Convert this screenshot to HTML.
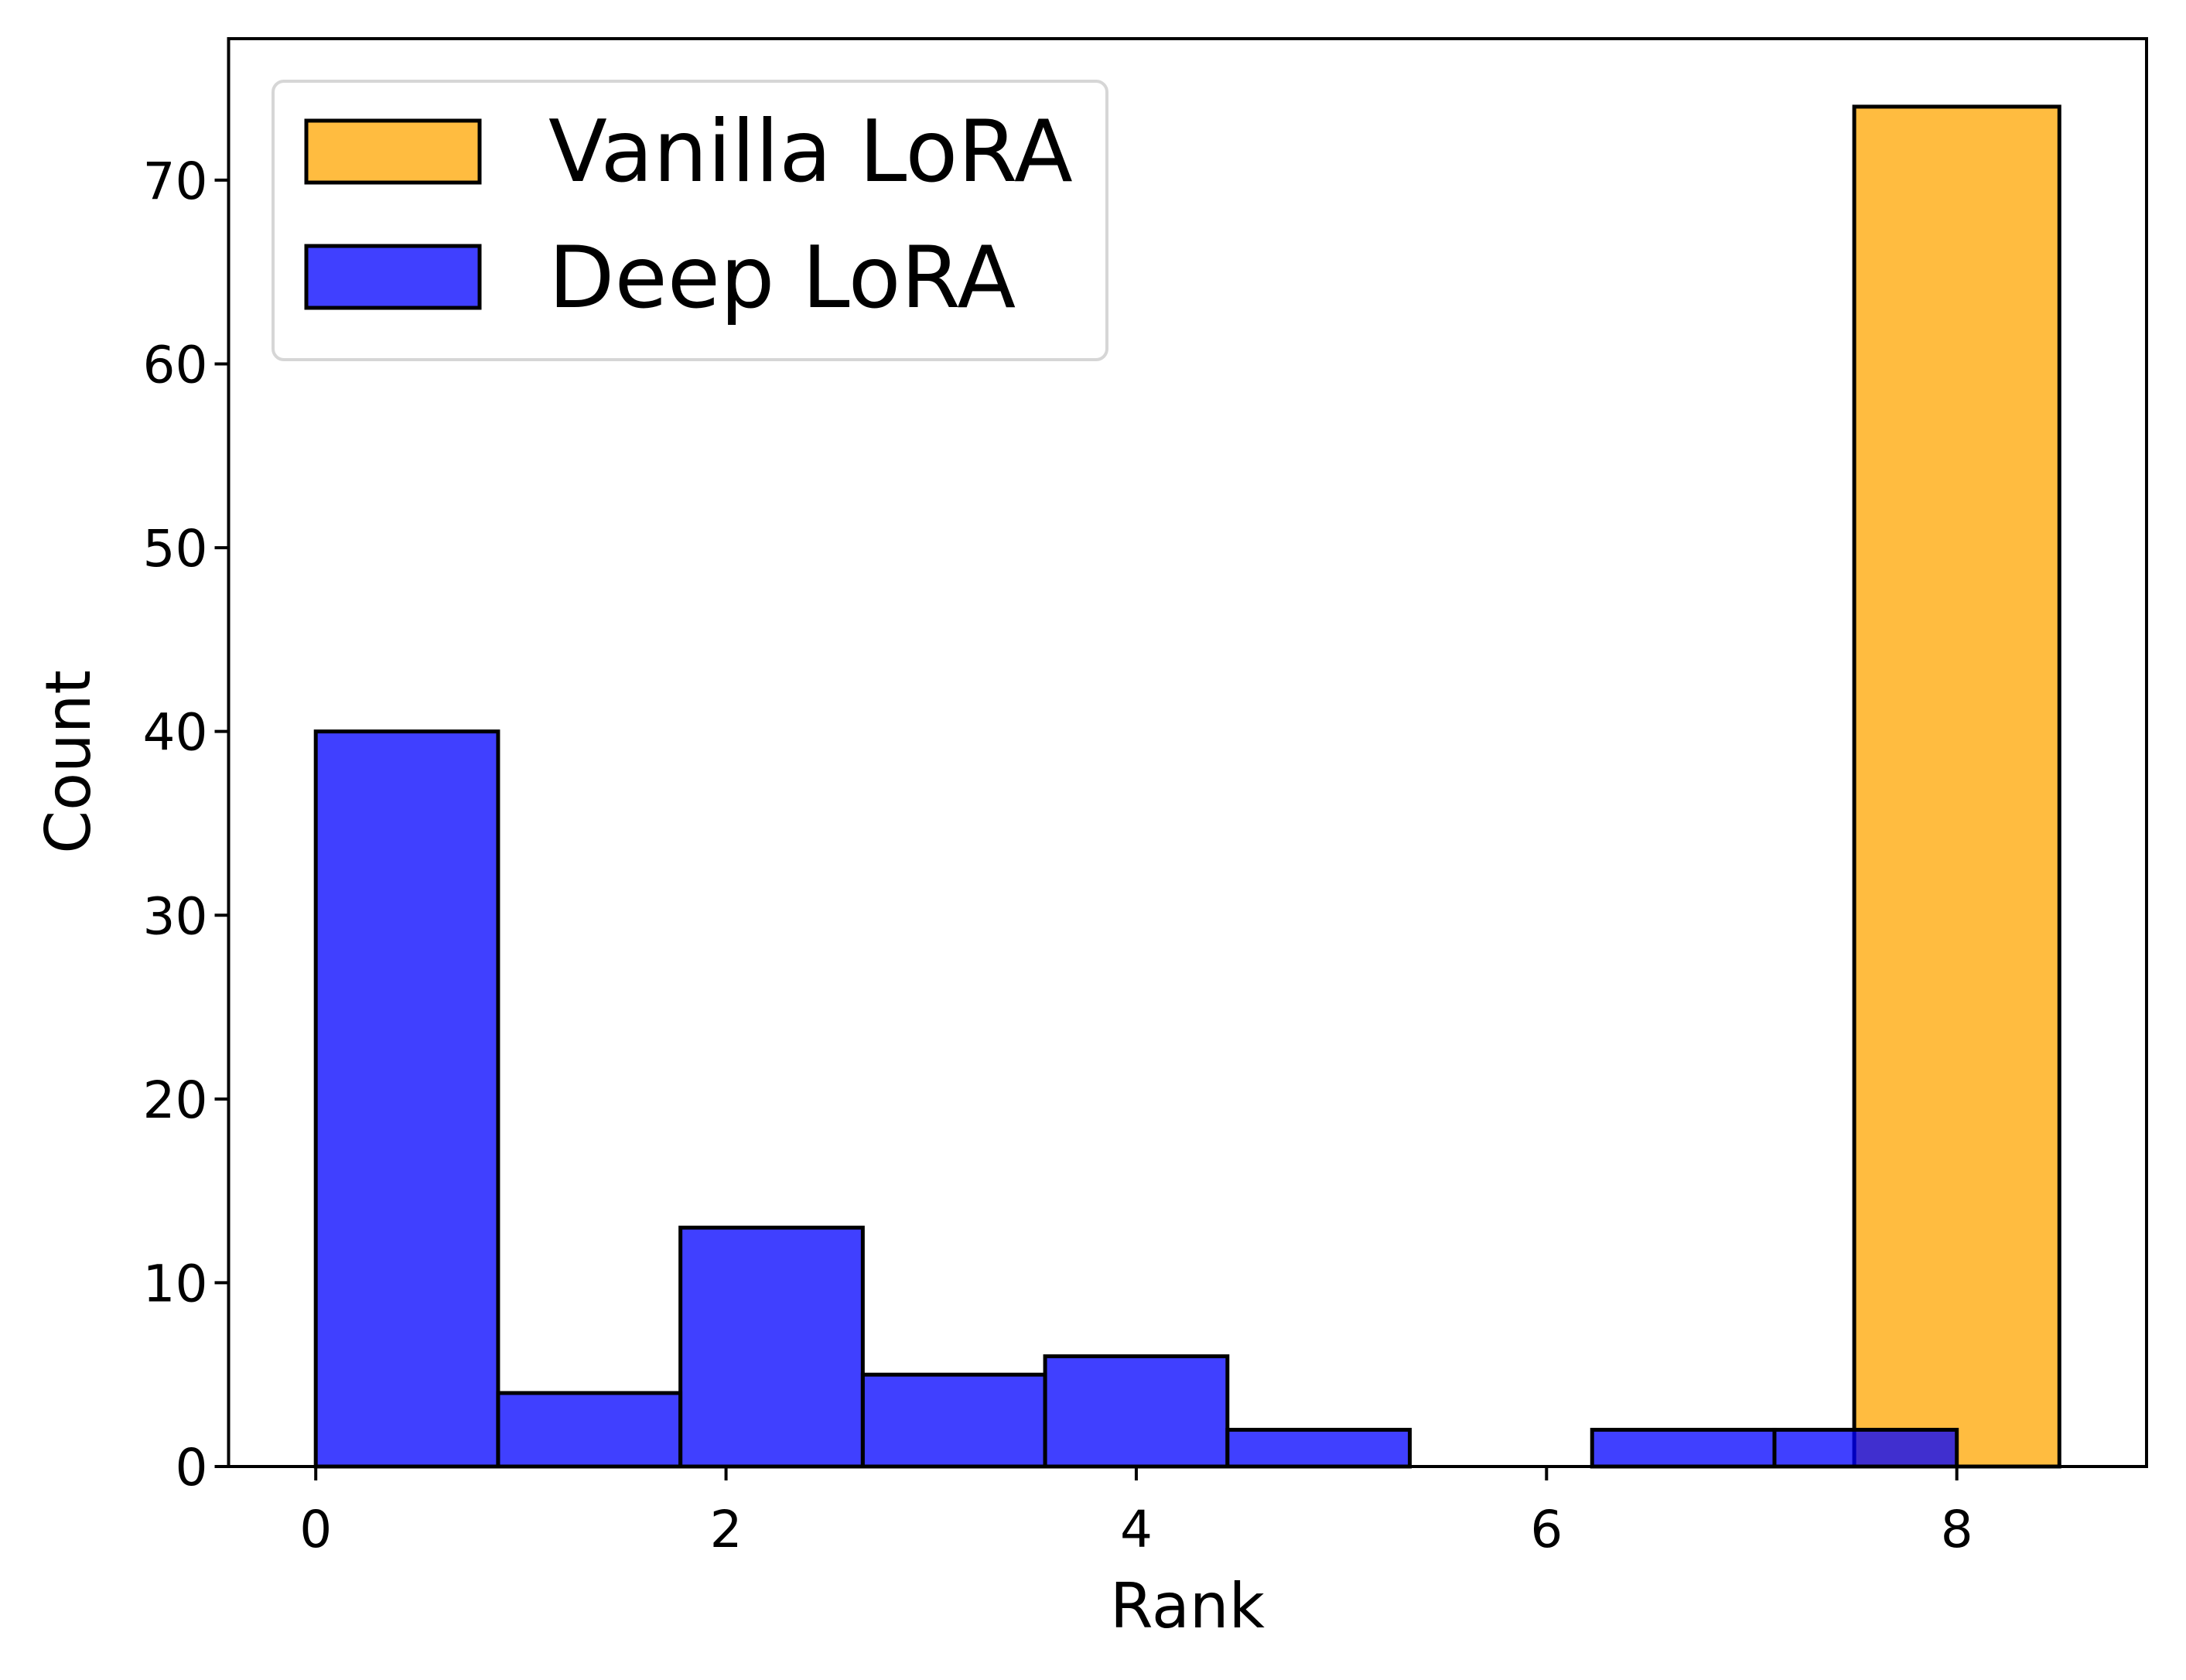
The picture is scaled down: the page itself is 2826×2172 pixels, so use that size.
<!DOCTYPE html>
<html><head><meta charset="utf-8"><style>
html,body{margin:0;padding:0;background:#fff;}
svg{display:block;font-family:"DejaVu Sans","Liberation Sans",sans-serif;}
</style></head><body>
<svg id="chart" width="2826" height="2172" viewBox="0 0 2826 2172" xmlns="http://www.w3.org/2000/svg">
<rect x="0" y="0" width="2826" height="2172" fill="#fff"/>
<g id="bars"></g>
<g id="axes"></g>
<text x="1535" y="2104" font-size="80" text-anchor="middle">Rank</text>
<text transform="translate(116,985) rotate(-90)" font-size="80" text-anchor="middle">Count</text>
<g>
<rect x="353" y="105" width="1078" height="360" rx="14" fill="#fff" fill-opacity="0.8" stroke="#d6d6d6" stroke-width="4"/>
<rect x="396" y="156" width="224" height="80" fill="#ffa500" fill-opacity="0.75" stroke="#000" stroke-width="5"/>
<text x="709" y="234" font-size="111">Vanilla LoRA</text>
<rect x="396" y="318" width="224" height="80" fill="#0000ff" fill-opacity="0.75" stroke="#000" stroke-width="5"/>
<text x="709" y="397" font-size="111">Deep LoRA</text>
</g>
</svg>
<script>
const deepCounts = [40, 4, 13, 5, 6, 2, 0, 2, 2];
const deepBinStart = 0;
const deepBinEnd = 8;
const vanillaCounts = [74];
const vanillaBinStart = 7.5;
const vanillaBinEnd = 8.5;
const xTicks = [0, 2, 4, 6, 8];
const yTicks = [0, 10, 20, 30, 40, 50, 60, 70];

const NS = "http://www.w3.org/2000/svg";
const L = 295.5, R = 2775, T = 50, B = 1896;
const xMin = -0.425, xMax = 8.925;
const yMin = 0, yMax = 77.7;
const X = v => L + (v - xMin) / (xMax - xMin) * (R - L);
const Y = v => B - (v - yMin) / (yMax - yMin) * (B - T);
function mk(tag, attrs, parent) {
  const e = document.createElementNS(NS, tag);
  for (const k in attrs) e.setAttribute(k, attrs[k]);
  parent.appendChild(e);
  return e;
}
const bars = document.getElementById('bars');
const axes = document.getElementById('axes');

function drawHist(counts, start, end, color, name) {
  const w = (end - start) / counts.length;
  counts.forEach((c, i) => {
    if (c <= 0) return;
    const x0 = X(start + i * w), x1 = X(start + (i + 1) * w);
    const r = mk('rect', {x: x0, y: Y(c), width: x1 - x0, height: Y(0) - Y(c),
      fill: color, 'fill-opacity': 0.75, stroke: '#000', 'stroke-width': 5}, bars);
    
    
  });
}
drawHist(vanillaCounts, vanillaBinStart, vanillaBinEnd, '#ffa500', 'vanilla');
drawHist(deepCounts, deepBinStart, deepBinEnd, '#0000ff', 'deep');

const frame = mk('rect', {x: L, y: T, width: R - L, height: B - T, fill: 'none', stroke: '#000', 'stroke-width': 4}, axes);



xTicks.forEach(t => {
  const x = X(t);
  const ln = mk('line', {x1: x, x2: x, y1: B, y2: B + 18, stroke: '#000', 'stroke-width': 4}, axes);
  
  
  const tx = mk('text', {x: x, y: 2000, 'font-size': 66, 'text-anchor': 'middle'}, axes);
  tx.textContent = t;
  
  
});
yTicks.forEach(t => {
  const y = Y(t);
  const ln = mk('line', {x1: L - 18, x2: L, y1: y, y2: y, stroke: '#000', 'stroke-width': 4}, axes);
  
  
  const tx = mk('text', {x: L - 27, y: y + 24, 'font-size': 66, 'text-anchor': 'end'}, axes);
  tx.textContent = t;
  
  
});
</script>
</body></html>
